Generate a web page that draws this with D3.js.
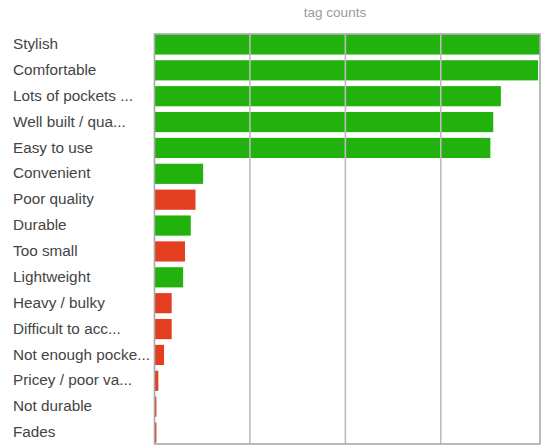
<!DOCTYPE html>
<html>
<head>
<meta charset="utf-8">
<script src="https://cdn.jsdelivr.net/npm/d3@7"></script>
<style>
  html, body { margin: 0; padding: 0; background: #fff; }
  svg { display: block; }
</style>
</head>
<body>
<svg id="chart" width="543" height="446"></svg>
<script>
// Tag labels, top to bottom
const categories = [
  "Stylish", "Comfortable", "Lots of pockets ...", "Well built / qua...",
  "Easy to use", "Convenient", "Poor quality", "Durable", "Too small",
  "Lightweight", "Heavy / bulky", "Difficult to acc...", "Not enough pocke...",
  "Pricey / poor va...", "Not durable", "Fades"
];
// Number of times each tag was applied
const counts = [404, 402, 363, 355, 352, 51, 43, 38, 32, 30, 18, 18, 10, 4, 2, 2];
// Whether each tag is a positive or a negative remark
const sentiment = [
  "pos", "pos", "pos", "pos", "pos", "pos", "neg", "pos", "neg",
  "pos", "neg", "neg", "neg", "neg", "neg", "neg"
];
// Gridline positions along the count axis
const gridTicks = [100, 200, 300];
const title = "tag counts";

(function () {
  const svg = d3.select("#chart");
  const plotLeft = 154.5, plotRight = 540, plotTop = 34, plotBottom = 444;

  const x = d3.scaleLinear().domain([0, d3.max(counts)]).range([plotLeft, plotRight]);
  const y = d3.scaleBand()
    .domain(categories)
    .range([31.5, 445.5])
    .paddingInner(0.22)
    .paddingOuter(0.11);
  const color = d3.scaleOrdinal().domain(["pos", "neg"]).range(["#21b20e", "#e43e20"]);

  // title
  svg.append("text")
    .attr("x", 335).attr("y", 17)
    .attr("text-anchor", "middle")
    .attr("font-family", "'Liberation Sans', Arial, sans-serif")
    .attr("font-size", 13.5)
    .attr("fill", "#9a9a9a")
    .text(title);

  // bars
  svg.append("g").selectAll("rect")
    .data(categories)
    .join("rect")
    .attr("x", x(0))
    .attr("y", d => y(d))
    .attr("width", (d, i) => x(counts[i]) - x(0))
    .attr("height", y.bandwidth())
    .attr("fill", (d, i) => color(sentiment[i]));

  // vertical gridlines
  svg.append("g").selectAll("line")
    .data(gridTicks)
    .join("line")
    .attr("x1", d => x(d)).attr("x2", d => x(d))
    .attr("y1", plotTop).attr("y2", plotBottom)
    .attr("stroke", "#bdbdbd")
    .attr("stroke-width", 1.6);

  // chart area frame
  svg.append("rect")
    .attr("x", plotLeft).attr("y", plotTop)
    .attr("width", plotRight - plotLeft).attr("height", plotBottom - plotTop)
    .attr("fill", "none")
    .attr("stroke", "#a8a8a8")
    .attr("stroke-width", 1.6);

  // category labels
  svg.append("g").selectAll("text")
    .data(categories)
    .join("text")
    .attr("x", 13)
    .attr("y", d => y(d) + y.bandwidth() / 2 + 4.6)
    .attr("font-family", "'Liberation Sans', Arial, sans-serif")
    .attr("font-size", 15.3)
    .attr("fill", "#444")
    .text(d => d);
})();
</script>
</body>
</html>
